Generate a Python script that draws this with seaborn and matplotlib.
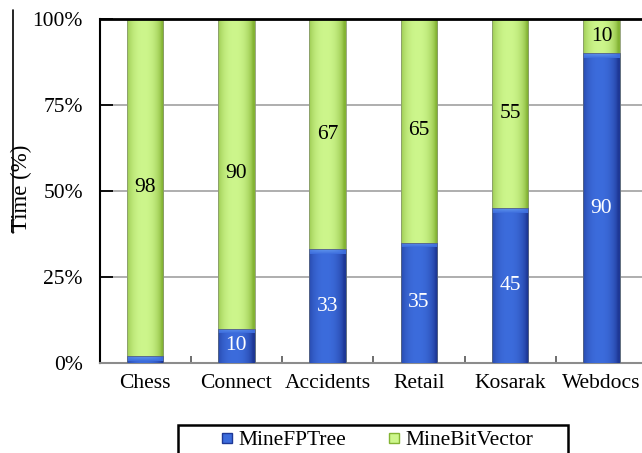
import numpy as np
import pandas as pd
import matplotlib
matplotlib.use("Agg")
import matplotlib.pyplot as plt
import seaborn as sns
from matplotlib.lines import Line2D
from matplotlib.patches import Rectangle

# Share of mining time per dataset (percent)
datasets = ["Chess", "Connect", "Accidents", "Retail", "Kosarak", "Webdocs"]
mine_fptree = [2, 10, 33, 35, 45, 90]
mine_bitvector = [98, 90, 67, 65, 55, 10]
y_ticks = [0, 25, 50, 75, 100]
y_tick_labels = ["0%", "25%", "50%", "75%", "100%"]
series_names = ["MineFPTree", "MineBitVector"]

sns.set_theme(style="white")
plt.rcParams["font.family"] = ["Liberation Serif", "DejaVu Serif"]

df = pd.DataFrame({"dataset": datasets, "fp": mine_fptree, "bv": mine_bitvector})
df["top"] = df["fp"] + df["bv"]

BLUE_DARK = np.array([30, 56, 150]) / 255
BLUE_LIGHT = np.array([60, 108, 220]) / 255
BLUE_HI = np.array([100, 155, 240]) / 255
GREEN_DARK = np.array([132, 180, 52]) / 255
GREEN_LIGHT = np.array([205, 246, 140]) / 255

fig = plt.figure(figsize=(6.42, 4.53), dpi=100)
fig.patch.set_facecolor("white")
ax = fig.add_axes([0.155, 0.1987, 0.853, 0.7594])

sns.barplot(data=df, x="dataset", y="top", color=tuple(GREEN_LIGHT), width=0.4,
            ax=ax, edgecolor="#8a9a70", linewidth=0.6, zorder=2)
green_bars = list(ax.patches)
sns.barplot(data=df, x="dataset", y="fp", color=tuple(BLUE_LIGHT), width=0.4,
            ax=ax, edgecolor="#5a6680", linewidth=0.6, zorder=3)
blue_bars = [p for p in ax.patches if p not in green_bars]


def shade(patch, dark, light, z, highlight=None):
    """Fill a bar with a horizontal cylinder-like gradient."""
    x, y = patch.get_x(), patch.get_y()
    w, h = patch.get_width(), patch.get_height()
    if h <= 0:
        return
    t = np.linspace(-1, 1, 80)
    mix = np.clip(1 - np.abs(t + 0.1) ** 2.2, 0, 1) ** 0.7
    row = dark[None, :] + (light - dark)[None, :] * mix[:, None]
    im = ax.imshow(row[None, :, :], extent=(x, x + w, y, y + h), aspect="auto",
                   interpolation="bilinear", zorder=z, origin="lower")
    im.set_clip_path(patch)
    if highlight is not None:
        hh = min(1.3, h)
        n = 12
        v = np.linspace(0, 1, n) ** 0.8
        k = 0.85 * mix[None, :, None]
        col = light[None, None, :] + (highlight - light)[None, None, :] * k * v[:, None, None]
        im2 = ax.imshow(col, extent=(x, x + w, y + h - hh, y + h),
                        aspect="auto", interpolation="bilinear", zorder=z + 0.05,
                        origin="lower")
        im2.set_clip_path(patch)
    patch.set_facecolor("none")
    patch.set_zorder(z + 0.1)


for p in green_bars:
    shade(p, GREEN_DARK, GREEN_LIGHT, 2)
for p in blue_bars:
    shade(p, BLUE_DARK, BLUE_LIGHT, 3, highlight=BLUE_HI)

# Value labels inside the segments
for i, (fp, bv) in enumerate(zip(mine_fptree, mine_bitvector)):
    if fp >= 5:
        ax.text(i, fp / 2, f"{fp}", ha="center", va="center", color="white",
                fontsize=15.5, zorder=5)
    ax.text(i, fp + bv / 2, f"{bv}", ha="center", va="center", color="black",
            fontsize=15.5, zorder=5)

ax.set_xlim(-0.5, 5.5)
ax.set_ylim(0, 100)
ax.set_yticks(y_ticks)
ax.set_yticklabels(y_tick_labels, fontsize=15.5)
ax.set_xticks(range(len(datasets)))
ax.set_xticklabels(datasets, fontsize=15.5)
ax.set_xticks(np.arange(0.5, len(datasets) - 1, 1), minor=True)
ax.set_xlabel("")
ax.set_ylabel("")

ax.yaxis.grid(True, color="#999999", linewidth=1.1)
ax.xaxis.grid(False)
ax.set_axisbelow(True)
ax.tick_params(axis="y", direction="in", length=9, width=1.3, color="black",
               pad=12, left=True, labelcolor="black")
ax.tick_params(axis="x", which="major", length=0, pad=8, labelcolor="black")
ax.tick_params(axis="x", which="minor", direction="in", length=5, width=1.2,
               color="#555555", bottom=True)

ax.spines["left"].set_color("black")
ax.spines["left"].set_linewidth(1.5)
ax.spines["top"].set_color("black")
ax.spines["top"].set_linewidth(2)
ax.spines["bottom"].set_color("#8c8c8c")
ax.spines["bottom"].set_linewidth(1.5)
ax.spines["right"].set_visible(False)

fig.text(21 / 642, 1 - 188 / 453, "Time (%)", rotation=90, ha="center",
         va="center", fontsize=16.5, color="black")
fig.add_artist(Line2D([12.5 / 642, 12.5 / 642], [1 - 10 / 453, 1 - 233 / 453],
                      transform=fig.transFigure, color="black", linewidth=1.2))

handles = [
    Line2D([], [], linestyle="none", marker="s", markersize=7,
           markerfacecolor=tuple(BLUE_LIGHT), markeredgecolor=tuple(BLUE_DARK)),
    Line2D([], [], linestyle="none", marker="s", markersize=7,
           markerfacecolor=tuple(GREEN_LIGHT), markeredgecolor=tuple(GREEN_DARK)),
]
fig.legend(handles, series_names, loc="center", ncol=2, frameon=False,
           bbox_to_anchor=(377.5 / 642, 1 - 440 / 453), fontsize=15.5,
           handlelength=0.5, handletextpad=0.25, columnspacing=2.0,
           borderpad=0, labelcolor="black")
fig.add_artist(Rectangle((178 / 642, 1 - 470 / 453), 390 / 642, 45 / 453,
                         transform=fig.transFigure, fill=False,
                         edgecolor="black", linewidth=1.8))

fig.savefig("out.png", dpi=100, facecolor="white")
